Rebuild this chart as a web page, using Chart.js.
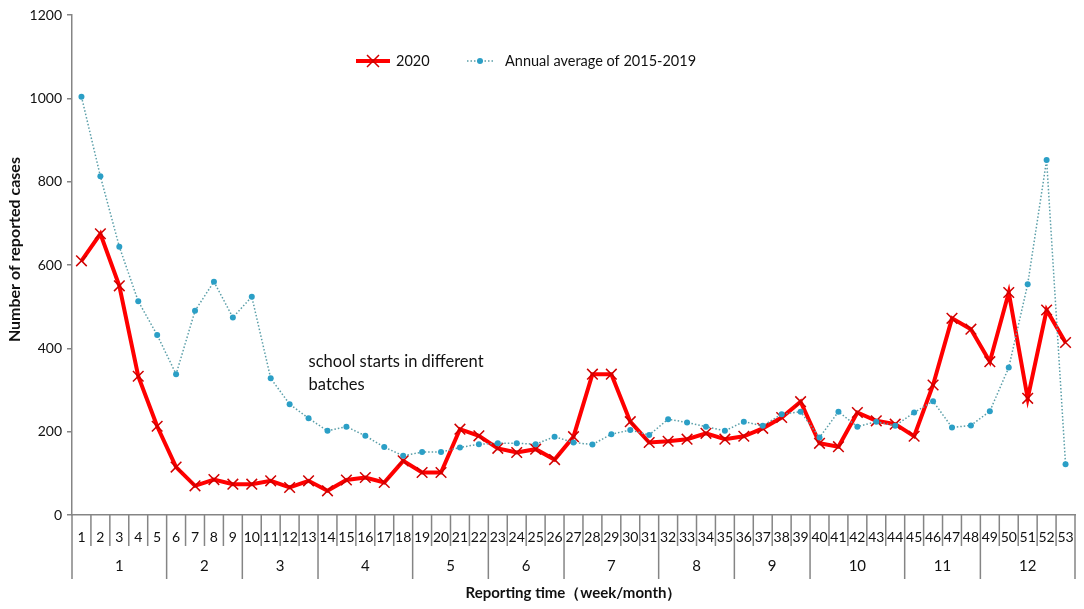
<!DOCTYPE html>
<html>
<head>
<meta charset="utf-8">
<script src="https://cdn.jsdelivr.net/npm/chart.js@4/dist/chart.umd.min.js"></script>
<style>
  html, body { margin: 0; padding: 0; background: #fff; }
  #wrap { width: 1084px; height: 609px; }
</style>
</head>
<body>
<div id="wrap"><canvas id="c" width="1084" height="609"></canvas></div>
<script>
// ---- data ----
const weeks = Array.from({length: 53}, (_, i) => String(i + 1));
const monthLabels = ['1','2','3','4','5','6','7','8','9','10','11','12'];
const monthWeekCounts = [5,4,4,5,4,4,5,4,4,5,4,5];
const series2020 = [610,675,550,333,213,115,70,85,74,74,
                    82,66,82,58,84,90,78,130,102,102,
                    206,190,160,150,158,133,188,338,338,224,
                    174,177,182,196,182,189,208,234,272,172,
                    164,246,226,218,189,312,472,446,368,534,
                    280,492,414];
const seriesAvg = [1004,813,644,513,432,338,490,560,474,524,
                   328,266,232,202,212,190,163,142,151,151,
                   162,170,172,172,170,188,174,169,194,204,
                   192,230,222,212,202,224,214,242,248,186,
                   248,212,224,214,246,273,210,215,249,354,
                   554,852,122];
const yTicks = [0,200,400,600,800,1000,1200];
const label2020 = '2020';
const labelAvg = 'Annual average of 2015-2019';
const annotationLines = ['school starts in different', 'batches'];
const xTitle = 'Reporting time\uFF08week/month\uFF09';
const yTitle = 'Number of reported cases';

const FONT = 'Lato, "Open Sans", sans-serif';
const AXIS = '#858585';
const RED = '#FF0000';
const RED_MK = '#D00000';
const BLUE_LINE = '#5a9ea8';
const BLUE_PT = '#2b9fc6';

const decorPlugin = {
  id: 'decor',
  afterDraw(chart) {
    const ctx = chart.ctx;
    const xs = chart.scales.x, ys = chart.scales.y;
    const ca = chart.chartArea;
    const base = ys.getPixelForValue(0);
    ctx.save();
    // category table separators
    ctx.strokeStyle = AXIS;
    ctx.lineWidth = 1.5;
    const monthEnds = [];
    let acc = 0;
    monthWeekCounts.forEach(n => { acc += n; monthEnds.push(acc); });
    const boundary = k => {
      if (k === 0) return ca.left;
      if (k === weeks.length) return ca.right;
      return (xs.getPixelForValue(k - 1) + xs.getPixelForValue(k)) / 2;
    };
    for (let k = 0; k <= weeks.length; k++) {
      const isMonth = k === 0 || monthEnds.includes(k);
      const bx = boundary(k);
      ctx.beginPath();
      ctx.moveTo(bx, base);
      ctx.lineTo(bx, base + (isMonth ? 64 : 31));
      ctx.stroke();
    }
    // month labels
    ctx.fillStyle = '#111';
    ctx.font = '15px ' + FONT;
    ctx.textAlign = 'center';
    ctx.textBaseline = 'middle';
    let start = 0;
    monthWeekCounts.forEach((n, i) => {
      const mx = (boundary(start) + boundary(start + n)) / 2;
      ctx.fillText(monthLabels[i], mx, base + 51);
      start += n;
    });
    // y title (drawn manually to match placement)
    ctx.save();
    ctx.font = 'bold 16px ' + FONT;
    ctx.translate(15, ys.getPixelForValue(637));
    ctx.rotate(-Math.PI / 2);
    ctx.fillText(yTitle, 0, 0);
    ctx.restore();
    // annotation
    ctx.font = '16.5px ' + FONT;
    ctx.textAlign = 'left';
    const ax = xs.getPixelForValue(12);
    const ay = ys.getPixelForValue(367);
    annotationLines.forEach((t, i) => ctx.fillText(t, ax, ay + i * 23));
    // legend
    const ly = 61;
    ctx.strokeStyle = RED;
    ctx.lineWidth = 4;
    ctx.beginPath(); ctx.moveTo(356, ly); ctx.lineTo(390, ly); ctx.stroke();
    ctx.strokeStyle = RED_MK;
    ctx.lineWidth = 1.5;
    const r = 6;
    ctx.beginPath();
    ctx.moveTo(373 - r, ly - r); ctx.lineTo(373 + r, ly + r);
    ctx.moveTo(373 - r, ly + r); ctx.lineTo(373 + r, ly - r);
    ctx.stroke();
    ctx.fillStyle = '#111';
    ctx.font = '14.5px ' + FONT;
    ctx.fillText(label2020, 396, ly);
    ctx.strokeStyle = BLUE_LINE;
    ctx.lineWidth = 1.5;
    ctx.setLineDash([1.5, 2]);
    ctx.beginPath(); ctx.moveTo(467, ly); ctx.lineTo(494, ly); ctx.stroke();
    ctx.setLineDash([]);
    ctx.fillStyle = BLUE_PT;
    ctx.beginPath(); ctx.arc(480, ly, 3, 0, Math.PI * 2); ctx.fill();
    ctx.fillStyle = '#111';
    ctx.fillText(labelAvg, 505, ly);
    ctx.restore();
  }
};

new Chart(document.getElementById('c'), {
  type: 'line',
  data: {
    labels: weeks,
    datasets: [
      {
        label: labelAvg,
        data: seriesAvg,
        order: 0,
        borderColor: BLUE_LINE,
        borderWidth: 1.5,
        borderDash: [1.5, 2],
        pointStyle: 'circle',
        pointRadius: 3,
        pointBackgroundColor: BLUE_PT,
        pointBorderColor: BLUE_PT,
        pointBorderWidth: 0,
        tension: 0,
        fill: false
      },
      {
        label: label2020,
        data: series2020,
        order: 1,
        borderColor: RED,
        borderWidth: 4,
        pointStyle: 'crossRot',
        pointRadius: 7.5,
        pointBorderColor: RED_MK,
        pointBorderWidth: 1.5,
        tension: 0,
        fill: false
      }
    ]
  },
  options: {
    responsive: false,
    animation: false,
    devicePixelRatio: 1,
    layout: { padding: { top: 15, right: 5, left: 0, bottom: 0 } },
    plugins: {
      legend: { display: false },
      tooltip: { enabled: false }
    },
    scales: {
      x: {
        type: 'category',
        offset: true,
        grid: { display: false },
        border: { display: true, color: AXIS, width: 1.5 },
        ticks: {
          autoSkip: false, maxRotation: 0, minRotation: 0,
          color: '#111', font: { family: FONT, size: 14 }, padding: 6
        },
        title: {
          display: true, text: xTitle, color: '#111',
          font: { family: FONT, size: 15, weight: 'bold' },
          padding: { top: 0, bottom: 7 }
        },
        afterFit(s) { s.height = 94; }
      },
      y: {
        min: 0, max: 1200,
        afterBuildTicks(s) { s.ticks = yTicks.map(v => ({ value: v })); },
        grid: { drawOnChartArea: false, drawTicks: true, tickLength: 5, color: AXIS, lineWidth: 1.5 },
        border: { display: true, color: AXIS, width: 1.5 },
        ticks: {
          color: '#111', font: { family: FONT, size: 14 }, padding: 5,
          callback: v => String(v)
        },
        title: { display: false },
        afterFit(s) { s.width = 72; }
      }
    }
  },
  plugins: [decorPlugin]
});
</script>
</body>
</html>
